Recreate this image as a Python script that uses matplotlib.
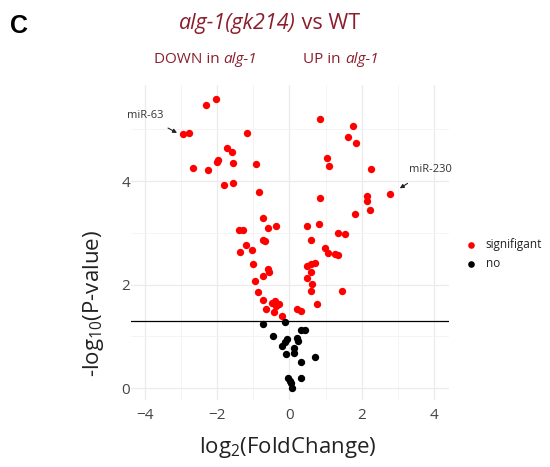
import numpy as np
import matplotlib
matplotlib.use("Agg")
import matplotlib.pyplot as plt

plt.rcParams['font.family'] = ['Open Sans', 'DejaVu Sans']
plt.rcParams['mathtext.default'] = 'regular'

# significant miRNAs (log2 fold change, -log10 p)
sig_fc = [-2.04, -2.31, -2.95, -2.78, -1.19, -1.72, -1.60, -1.97, -2.02, -1.56,
          -0.92, -2.67, -2.26, -1.81, -1.58, -0.84, -0.73, -0.59, -0.38, -1.41,
          -1.28, -0.74, -0.67, -1.20, -1.05, -1.37, -1.02, -0.59, -0.58, -0.73,
          -0.97, -0.86, -0.73, -0.66, -0.49, -0.39, -0.28, -0.42, -0.37, -0.22,
          0.85, 1.77, 1.62, 1.85, 1.03, 1.09, 2.26, 2.80, 2.16, 2.16,
          2.23, 0.86, 1.82, 0.49, 0.83, 1.34, 1.53, 0.61, 0.98, 1.06,
          1.26, 1.34, 0.48, 0.60, 0.71, 0.60, 0.48, 0.63, 0.59, 1.47,
          0.77, 0.22, 0.31]
sig_p = [5.59, 5.46, 4.90, 4.93, 4.93, 4.64, 4.57, 4.40, 4.37, 4.34,
         4.33, 4.26, 4.21, 3.92, 3.96, 3.78, 3.29, 3.10, 3.14, 3.06,
         3.05, 2.86, 2.84, 2.77, 2.66, 2.63, 2.40, 2.30, 2.25, 2.17,
         2.08, 1.85, 1.70, 1.54, 1.64, 1.69, 1.63, 1.48, 1.58, 1.40,
         5.20, 5.06, 4.85, 4.74, 4.44, 4.29, 4.23, 3.75, 3.71, 3.61,
         3.44, 3.68, 3.36, 3.13, 3.18, 3.00, 2.97, 2.86, 2.70, 2.62,
         2.59, 2.58, 2.36, 2.39, 2.41, 2.25, 2.12, 2.01, 1.88, 1.88,
         1.63, 1.54, 1.49]

# not significant
ns_fc = [-0.73, -0.12, -0.45, 0.32, 0.43, 0.20, 0.23, -0.06, -0.12, -0.20,
         0.12, 0.13, -0.11, 0.71, 0.31, -0.03, 0.01, 0.04, 0.06, 0.31]
ns_p = [1.24, 1.27, 1.01, 1.13, 1.13, 0.97, 0.92, 0.95, 0.89, 0.82,
        0.77, 0.69, 0.66, 0.61, 0.51, 0.19, 0.15, 0.10, 0.00, 0.19]

p_cut = -np.log10(0.05)
dark_red = '#8B1E2D'
grey = '#444444'

fig = plt.figure(figsize=(5.5, 4.67), dpi=100)
ax = fig.add_axes([0.238, 0.1435, 0.578, 0.6745])


def mixed_text(cx, cy, parts, size, color):
    # draw (text, style) pieces side by side, centred on cx in figure coords
    renderer = fig.canvas.get_renderer()
    items = []
    for txt, style in parts:
        t = fig.text(0, cy, txt, fontsize=size, style=style, color=color,
                     ha='left', va='center')
        w = t.get_window_extent(renderer).width / fig.bbox.width
        items.append((t, w))
    x = cx - sum(w for _, w in items) / 2
    for t, w in items:
        t.set_x(x)
        x += w


ax.scatter(sig_fc, sig_p, s=28, color='#FF0000', linewidths=0, zorder=3, label='signifigant')
ax.scatter(ns_fc, ns_p, s=28, color='black', linewidths=0, zorder=3, label='no')
ax.axhline(p_cut, color='black', lw=0.9, zorder=2)

ax.set_xlim(-4.4, 4.42)
ax.set_ylim(-0.226, 5.855)
ax.set_xticks([-4, -2, 0, 2, 4])
ax.set_xticks([-3, -1, 1, 3], minor=True)
ax.set_yticks([0, 2, 4])
ax.set_yticks([1, 3, 5], minor=True)
ax.grid(which='major', color='#EBEBEB', lw=0.9)
ax.grid(which='minor', color='#F3F3F3', lw=0.6)
ax.set_axisbelow(True)
for s in ax.spines.values():
    s.set_visible(False)
ax.tick_params(which='both', length=0, labelsize=11, labelcolor=grey)
ax.tick_params(axis='y', pad=0.5)
ax.tick_params(axis='x', pad=6)

ax.annotate('miR-63', xy=(-3.12, 4.93), xytext=(-4.0, 5.26), fontsize=8,
            color='#333333', ha='center', va='center',
            arrowprops=dict(arrowstyle='-|>', color='#222222', lw=0.8,
                            mutation_scale=6, shrinkA=6, shrinkB=0))
ax.annotate('miR-230', xy=(3.06, 3.86), xytext=(3.9, 4.23), fontsize=8,
            color='#333333', ha='center', va='center',
            arrowprops=dict(arrowstyle='-|>', color='#222222', lw=0.8,
                            mutation_scale=6, shrinkA=8, shrinkB=0))

leg = ax.legend(loc='center left', bbox_to_anchor=(1.018, 0.463), frameon=False,
                fontsize=8.5, handletextpad=0.25, markerscale=0.9,
                borderaxespad=0, labelspacing=0.5)
for t in leg.get_texts():
    t.set_color('#222222')

fig.text(0.524, 0.042, 'log$_2$(FoldChange)', ha='center', va='center',
         fontsize=16, color='#222222')
fig.text(0.17, 0.35, '-log$_{10}$(P-value)', ha='center', va='center',
         rotation=90, fontsize=16, color='#222222')

fig.text(0.018, 0.944, 'C', fontsize=18, fontweight='bold',
         family='Liberation Sans', ha='left', va='center')
mixed_text(0.49, 0.95, [('alg-1(gk214)', 'italic'), (' vs WT', 'normal')], 15.5, dark_red)
mixed_text(0.373, 0.872, [('DOWN in ', 'normal'), ('alg-1', 'italic')], 11, dark_red)
mixed_text(0.62, 0.872, [('UP in ', 'normal'), ('alg-1', 'italic')], 11, dark_red)

fig.savefig('out.png', dpi=100)
